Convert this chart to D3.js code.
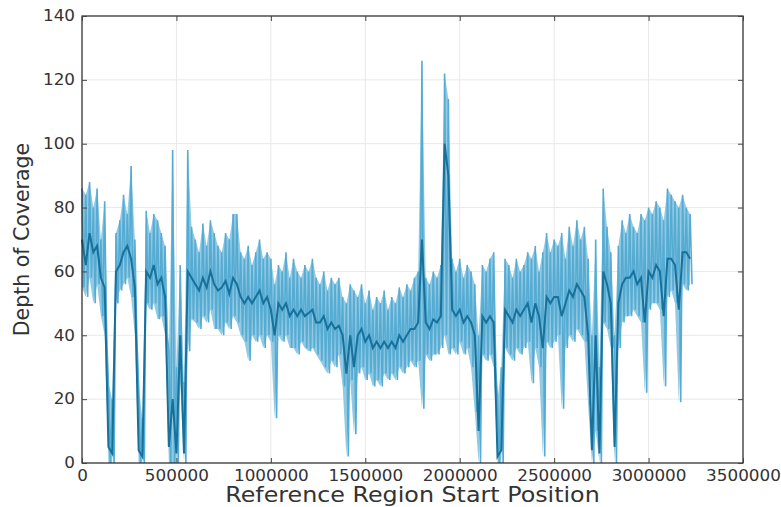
<!DOCTYPE html>
<html><head><meta charset="utf-8">
<script src="https://cdn.jsdelivr.net/npm/d3@7"></script>
<style>body{margin:0;background:#fff}svg{display:block}</style>
</head><body>
<script>
// bin size (bp) of the coverage windows
const binSize = 20000;
// upper envelope of coverage per window
const hiValues = [
86,84,88,80,86,70,82,25,20,72,
76,84,78,93,70,24,14,79,72,78,
76,72,68,35,98,30,62,25,98,74,
70,66,75,68,76,72,68,66,72,70,
78,78,66,64,68,62,66,70,64,66,
64,56,62,60,66,58,64,60,58,62,
60,64,58,56,60,54,58,56,58,52,
50,56,54,52,56,50,54,48,52,50,
54,48,52,50,55,52,56,54,58,60,
126,58,56,60,58,62,122,114,64,60,
64,58,62,60,56,40,62,60,64,66,
20,30,64,62,58,64,60,62,66,64,
68,60,66,72,66,70,68,72,64,74,
68,76,70,74,64,40,70,30,86,74,
66,40,68,76,72,78,74,72,78,76,
80,78,82,80,76,86,84,82,80,84,
80,78];
// mean coverage per window
const meanValues = [
70,62,72,66,68,58,55,5,3,60,
62,66,68,64,55,4,2,60,58,62,
56,58,52,5,20,3,40,3,60,58,
56,54,58,55,60,56,54,55,57,53,
58,56,52,50,52,50,52,54,50,52,
48,40,50,48,50,46,48,46,48,46,
47,48,44,44,46,42,44,42,43,40,
28,40,30,40,42,38,40,36,38,36,
38,36,38,36,40,38,40,42,42,44,
70,44,42,45,44,46,100,90,48,46,
48,44,46,44,40,10,46,44,46,44,
2,4,48,46,44,48,46,48,50,44,
50,46,36,52,50,52,52,46,50,54,
52,56,54,52,40,4,40,3,60,56,
50,5,50,56,58,58,60,56,58,44,
60,58,62,60,46,64,64,62,48,66,
66,64];
// lower envelope of coverage per window
const loValues = [
55,52,58,50,56,46,40,0,0,50,
54,56,58,52,40,0,0,50,48,50,
45,46,40,0,0,0,25,0,35,45,
44,42,46,44,48,42,42,40,44,42,
46,44,40,38,32,40,38,40,36,40,
38,14,40,38,40,36,36,34,38,36,
35,36,34,32,30,28,32,30,34,24,
2,26,9,28,30,26,28,24,26,24,
28,26,28,26,30,28,30,32,30,32,
17,34,32,34,34,36,40,34,36,34,
38,34,36,30,16,0,34,32,34,30,
0,0,36,34,32,36,34,36,38,25,
36,30,2,38,36,38,40,17,36,40,
38,42,40,38,18,0,10,0,44,42,
36,0,36,44,46,46,48,46,44,22,
48,50,50,48,24,52,54,50,19,56,
54,56];
const xTicks = [0,500000,1000000,1500000,2000000,2500000,3000000,3500000];
const yTicks = [0,20,40,60,80,100,120,140];
const xLabel = "Reference Region Start Position";
const yLabel = "Depth of Coverage";

const W = 781, H = 507;
const m = {l:82, r:38, t:16, b:44};
const svg = d3.select("body").append("svg").attr("width", W).attr("height", H);
const x = d3.scaleLinear().domain([0,3500000]).range([m.l, W - m.r]);
const y = d3.scaleLinear().domain([0,140]).range([H - m.b, m.t]);

const data = hiValues.map((h,i)=>({pos:i*binSize, hi:h, mean:meanValues[i], lo:loValues[i]}));
// zigzag trace between the upper and lower envelope inside each window
const zig = [];
data.forEach(d=>{ zig.push([d.pos, d.hi]); zig.push([d.pos + binSize/2, d.lo]); });

// grid
const g = svg.append("g");
g.selectAll(".gx").data(xTicks.slice(1,-1)).join("line")
  .attr("x1", d=>x(d)).attr("x2", d=>x(d)).attr("y1", y(0)).attr("y2", y(140))
  .attr("stroke", "#e8e8e8").attr("stroke-width", 1);
g.selectAll(".gy").data(yTicks.slice(1,-1)).join("line")
  .attr("y1", d=>y(d)).attr("y2", d=>y(d)).attr("x1", x(0)).attr("x2", x(3500000))
  .attr("stroke", "#e8e8e8").attr("stroke-width", 1);

// band
const area = d3.area().x(d=>x(d.pos)).y0(d=>y(d.lo)).y1(d=>y(d.hi));
svg.append("path").datum(data).attr("d", area).attr("fill", "#92cae4");
svg.append("path").datum(zig).attr("d", d3.line().x(d=>x(d[0])).y(d=>y(d[1])))
  .attr("fill","none").attr("stroke","#56abd3").attr("stroke-width",1.6);
const meanLine = d3.line().x(d=>x(d.pos)).y(d=>y(d.mean));
svg.append("path").datum(data).attr("d", meanLine).attr("fill","none").attr("stroke","#17719b").attr("stroke-width",2);

// frame
svg.append("rect").attr("x", x(0)).attr("y", y(140)).attr("width", x(3500000)-x(0)).attr("height", y(0)-y(140))
  .attr("fill","none").attr("stroke","#222").attr("stroke-width",1.2);

// axes
const fmt = d3.format("d");
svg.append("g").attr("transform", `translate(0,${y(0)})`)
  .call(d3.axisBottom(x).tickValues(xTicks).tickFormat(fmt).tickSizeInner(-5).tickSizeOuter(0).tickPadding(7));
svg.append("g").attr("transform", `translate(${x(0)},0)`)
  .call(d3.axisLeft(y).tickValues(yTicks).tickFormat(fmt).tickSizeInner(-5).tickSizeOuter(0).tickPadding(7));
svg.append("g").attr("transform", `translate(0,${y(140)})`)
  .call(d3.axisTop(x).tickValues(xTicks).tickFormat("").tickSizeInner(-5).tickSizeOuter(0));
svg.append("g").attr("transform", `translate(${x(3500000)},0)`)
  .call(d3.axisRight(y).tickValues(yTicks).tickFormat("").tickSizeInner(-5).tickSizeOuter(0));
svg.selectAll(".domain").remove();
svg.selectAll(".tick line").attr("stroke","#444");
svg.selectAll(".tick text").attr("font-family","DejaVu Sans").attr("font-size",15).attr("fill","#333")
  .each(function(){ const L = this.getComputedTextLength(); d3.select(this).attr("textLength", L*1.12).attr("lengthAdjust","spacingAndGlyphs"); });

const xl = svg.append("text").attr("x", (x(0)+x(3500000))/2).attr("y", 502).attr("text-anchor","middle")
  .attr("font-family","DejaVu Sans").attr("font-size",20.5).attr("fill","#333").text(xLabel);
xl.attr("textLength", xl.node().getComputedTextLength()*1.16).attr("lengthAdjust","spacingAndGlyphs");
svg.append("text").attr("transform", `translate(29,${(y(0)+y(140))/2}) rotate(-90)`).attr("text-anchor","middle")
  .attr("font-family","DejaVu Sans").attr("font-size",20.5).attr("fill","#333").text(yLabel);
</script>
</body></html>
